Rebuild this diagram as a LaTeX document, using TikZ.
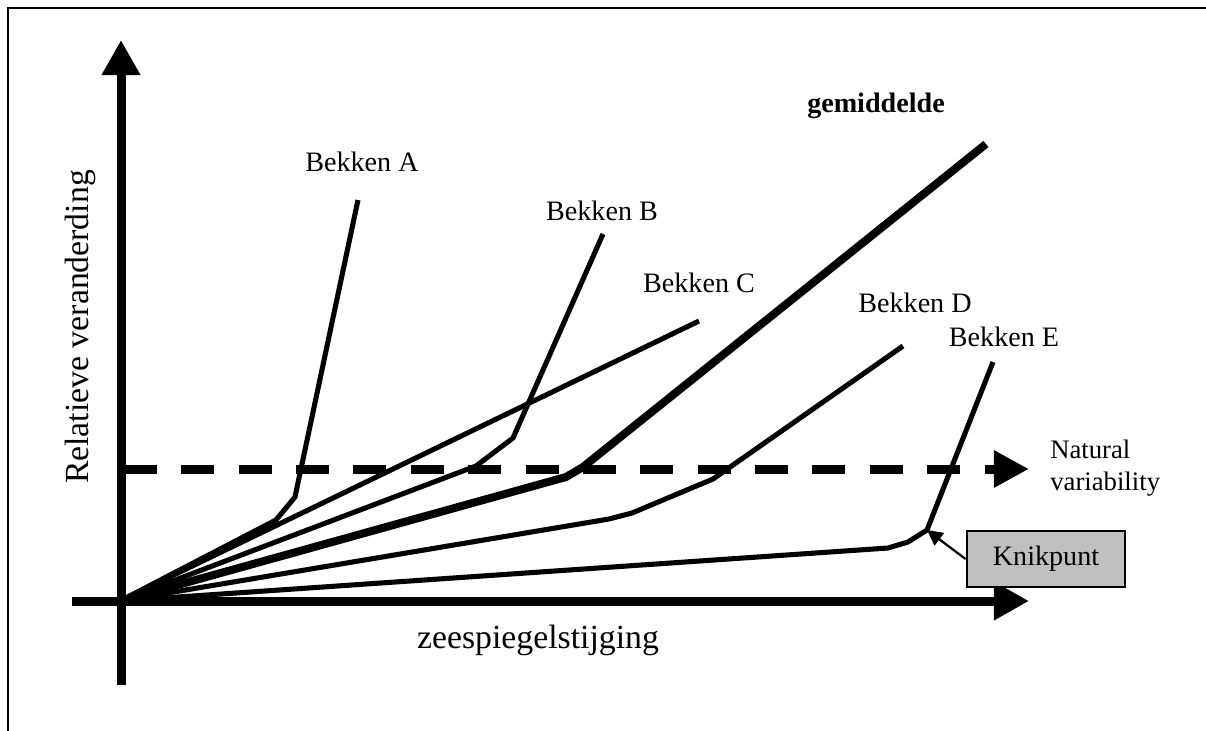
\documentclass[tikz,border=0pt]{standalone}
\usepackage{fontspec}
\setmainfont{Liberation Serif}
\usetikzlibrary{arrows.meta}

\tikzset{
  axis/.style={line width=6.4pt, -{Triangle[length=25pt,width=26pt]}},
  bekken/.style={line width=3.6pt, line join=round},
  lbl/.style={font=\fontsize{20}{24}\selectfont, inner sep=0pt},
}

\begin{document}
\begin{tikzpicture}[x=0.025cm,y=-0.025cm]
    \useasboundingbox (0,0) rectangle (1206,731);
    \draw[line width=1.5pt] (8,731) -- (8,8) -- (1206,8);
    \coordinate (o) at (120,601);
    \coordinate (xs) at (72,601);
    \coordinate (xe) at (1029,601);
    \coordinate (ys) at (121,685);
    \coordinate (ye) at (121,40);
    \coordinate (ns) at (124,469);
    \coordinate (ne) at (1029,469);
    \draw[axis] (xs) -- (xe);
    \draw[axis] (ys) -- (ye);
    \draw[line width=6.4pt, dash pattern=on 23.4pt off 17.4pt,
          -{Triangle[length=25pt,width=25pt]}] (ns) -- (ne);
    % curves
    \coordinate (a1) at (276,520);
    \coordinate (a2) at (295,497);
    \coordinate (a3) at (358,200);
    \coordinate (b1) at (476,466);
    \coordinate (b2) at (513,438);
    \coordinate (b3) at (603,234);
    \coordinate (c1) at (699,321);
    \coordinate (g1) at (566,477);
    \coordinate (g2) at (583,467);
    \coordinate (g3) at (986,144);
    \coordinate (d1) at (609,519);
    \coordinate (d2) at (632,513);
    \coordinate (d3) at (713,479);
    \coordinate (d4) at (903,346);
    \coordinate (e1) at (888,548);
    \coordinate (e2) at (908,542);
    \coordinate (knik) at (927,530);
    \coordinate (e3) at (993,362);
    \draw[bekken] (o) -- (a1) -- (a2) -- (a3);
    \draw[bekken] (o) -- (b1) -- (b2) -- (b3);
    \draw[bekken] (o) -- (c1);
    \draw[bekken, line width=5.7pt] (o) -- (g1) -- (g2) -- (g3);
    \draw[bekken] (o) -- (d1) -- (d2) -- (d3) -- (d4);
    \draw[bekken] (o) -- (e1) -- (e2) -- (knik) -- (e3);
    \node[lbl] (la) at (362,162) {Bekken A};
    \node[lbl] (lb) at (602,211) {Bekken B};
    \node[lbl] (lc) at (699,283) {Bekken C};
    \node[lbl] (ld) at (915,303) {Bekken D};
    \node[lbl] (le) at (1004,337) {Bekken E};
    \node[lbl, font=\fontsize{20}{24}\selectfont\bfseries] (lg) at (876,106) {gemiddelde};
    \node[lbl, font=\fontsize{24}{28}\selectfont, rotate=90] (ly) at (80,327) {Relatieve veranderding};
    \node[lbl, font=\fontsize{24}{28}\selectfont] (lx) at (538,640) {zeespiegelstijging};
    \node[lbl, font=\fontsize{19}{22.7}\selectfont, align=left, anchor=west] (nv) at (1050,468) {Natural\\variability};
    \node[lbl, draw, line width=1.4pt, fill=black!25, minimum width=113pt, minimum height=40pt] (kp) at (1046,559) {Knikpunt};
    \draw[line width=1.6pt, -{Triangle[length=11pt,width=11pt]}] (kp.west) -- (knik);
\end{tikzpicture}
\end{document}
